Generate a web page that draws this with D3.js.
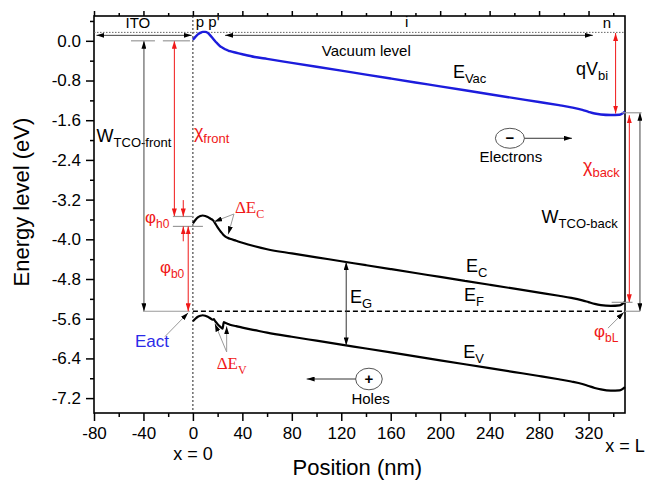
<!DOCTYPE html>
<html>
<head>
<meta charset="utf-8">
<style>
body { margin: 0; background: #fff; }
svg { display: block; font-family: 'Liberation Sans', Arial, sans-serif; }
.axis text { font-size: 17px; fill: #000; font-family: 'Liberation Sans', Arial, sans-serif; }
.axis line { stroke: #000; stroke-width: 1.5; }
</style>
<title>Band diagram</title>
</head>
<body>
<svg width="648" height="483"></svg>
<script src="https://cdn.jsdelivr.net/npm/d3@7"></script>
<script>

// position grid (nm) and band energies (eV)
var xPos = [0, 2, 4, 6, 8, 10, 12, 14, 16, 17, 18, 20, 22, 24, 25, 26, 28, 30, 35, 40, 50, 60,
            80, 100, 120, 140, 160, 180, 200, 220, 240, 260, 280, 296, 306, 315, 320, 325, 330, 338, 345, 349.5];
var eVac = [0.02, 0.08, 0.13, 0.16, 0.18, 0.18, 0.16, 0.11, 0.05, 0.02, -0.01, -0.06, -0.11, -0.14, -0.155, -0.17, -0.19, -0.21, -0.24, -0.27, -0.326, -0.365,
            -0.444, -0.523, -0.602, -0.681, -0.760, -0.839, -0.918, -0.997, -1.076, -1.155, -1.234, -1.297, -1.34, -1.39, -1.43, -1.465, -1.485, -1.495, -1.49, -1.43];
var eC = [-3.68, -3.61, -3.56, -3.53, -3.52, -3.53, -3.55, -3.58, -3.61, -3.64, -3.68, -3.76, -3.83, -3.89, -3.92, -3.94, -3.97, -3.99, -4.03, -4.07, -4.14, -4.20,
          -4.284, -4.363, -4.442, -4.521, -4.600, -4.679, -4.758, -4.837, -4.916, -4.995, -5.074, -5.137, -5.18, -5.23, -5.265, -5.30, -5.325, -5.34, -5.33, -5.26];
var eV = [-5.65, -5.60, -5.56, -5.54, -5.53, -5.54, -5.56, -5.59, -5.62, -5.61, -5.65, -5.71, -5.76, -5.80, -5.67, -5.68, -5.70, -5.72, -5.75, -5.78, -5.83, -5.88,
          -5.964, -6.043, -6.122, -6.201, -6.280, -6.359, -6.438, -6.517, -6.596, -6.675, -6.754, -6.82, -6.865, -6.915, -6.955, -6.995, -7.025, -7.05, -7.045, -6.98];
var eF = -5.45;
var xMax = 349.5;

var xTicks = [-80, -40, 0, 40, 80, 120, 160, 200, 240, 280, 320];
var xTickLabels = ["-80", "-40", "0", "40", "80", "120", "160", "200", "240", "280", "320"];
var xMinor = [-60, -20, 20, 60, 100, 140, 180, 220, 260, 300, 340];
var yTicks = [-7.2, -6.4, -5.6, -4.8, -4.0, -3.2, -2.4, -1.6, -0.8, 0.0];
var yTickLabels = ["-7.2", "-6.4", "-5.6", "-4.8", "-4.0", "-3.2", "-2.4", "-1.6", "-0.8", "0.0"];
var yMinor = [-6.8, -6.0, -5.2, -4.4, -3.6, -2.8, -2.0, -1.2, -0.4, 0.4];

var red = "#f01818", blue = "#2a2ae8", dark = "#444", grey = "#9a9a9a";
var sans = "'Liberation Sans', Arial, sans-serif", serif = "'Liberation Serif', 'Times New Roman', serif";

var svg = d3.select("svg"),
    margin = {top: 16, right: 23, bottom: 70, left: 94},
    width = +svg.attr("width") - margin.left - margin.right,
    height = +svg.attr("height") - margin.top - margin.bottom;

var x = d3.scaleLinear().domain([-80, xMax]).range([0, width]),
    y = d3.scaleLinear().domain([-7.5, 0.5]).range([height, 0]);

// arrow heads
var defs = svg.append("defs");
[["hBlack", "#000"], ["hRed", red]].forEach(function(m) {
  defs.append("marker")
      .attr("id", m[0])
      .attr("viewBox", "0 0 10 10")
      .attr("refX", 10).attr("refY", 5)
      .attr("markerUnits", "userSpaceOnUse")
      .attr("markerWidth", 8).attr("markerHeight", 5)
      .attr("preserveAspectRatio", "none")
      .attr("orient", "auto-start-reverse")
    .append("path")
      .attr("d", "M0,0L10,5L0,10z")
      .attr("fill", m[1]);
});

var g = svg.append("g")
    .attr("transform", "translate(" + margin.left + "," + margin.top + ")");

function at(arr, xv) {
  var i = d3.bisectLeft(xPos, xv);
  if (i <= 0) return arr[0];
  var t = (xv - xPos[i - 1]) / (xPos[i] - xPos[i - 1]);
  return arr[i - 1] + t * (arr[i] - arr[i - 1]);
}

function arrow(x1, y1, x2, y2, color, heads) {
  var l = g.append("line")
      .attr("x1", x(x1)).attr("y1", y(y1))
      .attr("x2", x(x2)).attr("y2", y(y2))
      .attr("stroke", color).attr("stroke-width", 1);
  var mk = color == red ? "url(#hRed)" : "url(#hBlack)";
  if (heads == "both" || heads == "start") l.attr("marker-start", mk);
  if (heads == "both" || heads == "end") l.attr("marker-end", mk);
}

function cap(x1, x2, yv) {
  g.append("line")
      .attr("x1", x(x1)).attr("x2", x(x2))
      .attr("y1", y(yv)).attr("y2", y(yv))
      .attr("stroke", grey).attr("stroke-width", 1.2);
}

function label(xv, yv, main, sub, size, color, family, anchor) {
  var t = g.append("text")
      .attr("x", x(xv)).attr("y", y(yv))
      .attr("font-size", size)
      .attr("fill", color || "#000")
      .attr("font-family", family || sans)
      .attr("text-anchor", anchor || "start");
  t.append("tspan").text(main);
  if (sub) t.append("tspan").attr("dy", size * 0.28).attr("font-size", Math.round(size * 0.72)).text(sub);
}

// axes
function noDomain(a) { a.select(".domain").remove(); }

g.append("g").attr("class", "axis")
    .attr("transform", "translate(0," + height + ")")
    .call(d3.axisBottom(x).tickValues(xTicks).tickFormat(function(d, i) { return xTickLabels[i]; }).tickSize(8).tickPadding(6))
    .call(noDomain);
g.append("g").attr("class", "axis")
    .attr("transform", "translate(0," + height + ")")
    .call(d3.axisBottom(x).tickValues(xMinor).tickFormat("").tickSize(4))
    .call(noDomain);
g.append("g").attr("class", "axis")
    .call(d3.axisTop(x).tickValues(xTicks).tickFormat("").tickSize(5))
    .call(noDomain);
g.append("g").attr("class", "axis")
    .call(d3.axisTop(x).tickValues(xMinor).tickFormat("").tickSize(3))
    .call(noDomain);
g.append("g").attr("class", "axis")
    .call(d3.axisLeft(y).tickValues(yTicks).tickFormat(function(d, i) { return yTickLabels[i]; }).tickSize(8).tickPadding(5))
    .call(noDomain);
g.append("g").attr("class", "axis")
    .call(d3.axisLeft(y).tickValues(yMinor).tickFormat("").tickSize(4))
    .call(noDomain);

g.append("rect")
    .attr("width", width).attr("height", height)
    .attr("fill", "none").attr("stroke", "#000").attr("stroke-width", 1.6);

// axis titles
svg.append("text")
    .attr("x", margin.left + x(133)).attr("y", 475)
    .attr("text-anchor", "middle").attr("font-size", 22)
    .text("Position (nm)");
svg.append("text")
    .attr("transform", "translate(29," + (margin.top + y(-3.25)) + ") rotate(-90)")
    .attr("text-anchor", "middle").attr("font-size", 22)
    .text("Energy level (eV)");

// guide lines
g.append("line")
    .attr("x1", x(0)).attr("x2", x(0)).attr("y1", 0).attr("y2", height)
    .attr("stroke", "#222").attr("stroke-width", 1).attr("stroke-dasharray", "2,2");
g.append("line")
    .attr("x1", 0).attr("x2", width).attr("y1", y(0.17)).attr("y2", y(0.17))
    .attr("stroke", "#666").attr("stroke-width", 1).attr("stroke-dasharray", "1.5,1.5");

// bands
var line = d3.line()
    .x(function(d, i) { return x(xPos[i]); })
    .y(function(d) { return y(d); })
    .curve(d3.curveMonotoneX);

g.append("path").datum(eVac).attr("d", line)
    .attr("fill", "none").attr("stroke", "#1c1cdc").attr("stroke-width", 2.4);
g.append("path").datum(eC).attr("d", line)
    .attr("fill", "none").attr("stroke", "#000").attr("stroke-width", 2.2);
g.append("path").datum(eV).attr("d", line)
    .attr("fill", "none").attr("stroke", "#000").attr("stroke-width", 2.2);
g.append("line")
    .attr("x1", x(0)).attr("x2", x(xMax)).attr("y1", y(eF)).attr("y2", y(eF))
    .attr("stroke", "#000").attr("stroke-width", 1.6).attr("stroke-dasharray", "5,3");

// region labels and arrows on top
label(-44.5, 0.258, "ITO", null, 15, "#000", sans, "middle");
label(2.4, 0.28, "p p'", null, 15);
label(171.5, 0.28, "i", null, 15);
label(334.9, 0.258, "n", null, 15, "#000", sans, "middle");
arrow(-78, 0.11, -1, 0.11, dark, "both");
arrow(26, 0.11, 323.5, 0.11, dark, "both");

label(104.3, -0.306, "Vacuum level", null, 15);
label(210.3, -0.749, "E", "Vac", 18);
label(309.8, -0.689, "qV", "bi", 18);
arrow(341.9, 0.157, 341.9, -1.465, red, "both");

// carriers
var ex = 256.4, ey = -1.964, hx = 142.4, hy = -6.815;
g.append("ellipse").attr("cx", x(ex)).attr("cy", y(ey)).attr("rx", 14.5).attr("ry", 10)
    .attr("fill", "none").attr("stroke", "#555").attr("stroke-width", 1);
g.append("text").attr("x", x(ex)).attr("y", y(ey) + 5).attr("text-anchor", "middle")
    .attr("font-size", 15).attr("font-weight", "bold").text("\u2212");
g.append("line").attr("x1", x(ex) + 14.5).attr("x2", x(306.6)).attr("y1", y(ey)).attr("y2", y(ey))
    .attr("stroke", "#333").attr("stroke-width", 1).attr("marker-end", "url(#hBlack)");
label(257.2, -2.44, "Electrons", null, 15, "#000", sans, "middle");

g.append("ellipse").attr("cx", x(hx)).attr("cy", y(hy)).attr("rx", 13.3).attr("ry", 10.8)
    .attr("fill", "none").attr("stroke", "#555").attr("stroke-width", 1);
g.append("text").attr("x", x(hx)).attr("y", y(hy) + 5).attr("text-anchor", "middle")
    .attr("font-size", 15).attr("font-weight", "bold").text("+");
g.append("line").attr("x1", x(hx) - 13.3).attr("x2", x(92)).attr("y1", y(hy)).attr("y2", y(hy))
    .attr("stroke", "#333").attr("stroke-width", 1).attr("marker-end", "url(#hBlack)");
label(143.7, -7.32, "Holes", null, 15, "#000", sans, "middle");

// band labels
label(220.8, -4.65, "E", "C", 18);
label(219.2, -5.25, "E", "F", 18);
label(127, -5.28, "E", "G", 18);
label(218.6, -6.40, "E", "V", 18);
arrow(124, at(eV, 124), 124, at(eC, 124), "#333", "both");

// back contact
label(315.5, -2.64, "\u03c7", "back", 18, red);
label(282, -3.67, "W", "TCO-back", 18);
arrow(353, -1.50, 353, -5.27, red, "both");
arrow(361.6, -1.45, 361.6, eF, dark, "both");
cap(347, 362.9, -1.45);
cap(338.7, 355.6, -5.27);
cap(349.4, 361.6, eF);
label(324.4, -5.97, "\u03c6", "bL", 17, red);
arrow(335.7, -5.79, 348.6, -5.47, grey, "end");

// front contact
label(-77.9, -2.04, "W", "TCO-front", 18);
arrow(-39.6, 0, -39.6, eF, dark, "both");
cap(-50.1, -30.7, 0);
cap(-40.4, -2.4, eF);
label(0.8, -1.96, "\u03c7", "front", 18, red);
arrow(-15, 0, -15, -3.54, red, "both");
cap(-24.3, -2.4, 0);
cap(-16.2, 0, -3.54);
cap(-16.2, 8.1, -3.74);
label(-38.8, -3.67, "\u03c6", "h0", 17, red);
arrow(-7.8, -3.21, -7.8, -3.54, red, "end");
arrow(-7.8, -4.04, -7.8, -3.74, red, "end");
label(-26.7, -4.68, "\u03c6", "b0", 17, red);
arrow(-3.8, -3.74, -3.8, eF, red, "both");

label(34, -3.47, "\u0394E", "C", 17, red, serif);
arrow(33.2, -3.49, 17.2, -3.645, grey, "end");
arrow(33.2, -3.49, 28.6, -3.90, grey, "end");
label(19.2, -6.61, "\u0394E", "V", 17, red, serif);
arrow(27.3, -6.27, 17.8, -5.70, grey, "end");
arrow(27.3, -6.27, 27.3, -5.75, grey, "end");
label(-46.9, -6.16, "Eact", null, 17, blue);
arrow(-22.6, -5.96, -3.8, -5.48, grey, "end");

label(0, -8.447, "x = 0", null, 18, "#000", sans, "middle");
label(xMax, -8.29, "x = L", null, 18, "#000", sans, "middle");

</script>
</body>
</html>
